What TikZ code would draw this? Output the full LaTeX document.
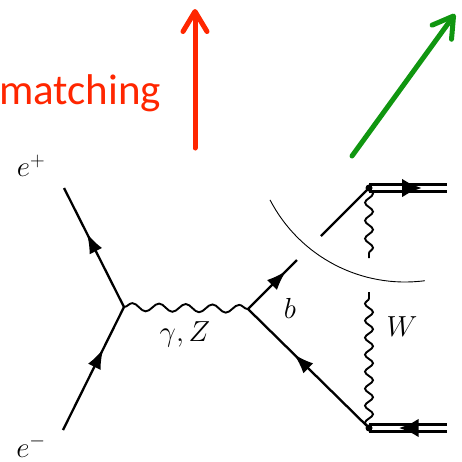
\RequirePackage{fix-cm}
\documentclass[tikz,border=0pt]{standalone}
\usepackage{fontspec}
\newfontfamily\carlito{Carlito}
\usetikzlibrary{arrows.meta,decorations.pathmorphing,decorations.markings}
\definecolor{hred}{RGB}{255,38,0}
\definecolor{hgreen}{RGB}{16,150,16}
\tikzset{
  fermion/.style={draw, line width=2.3pt, postaction={decorate},
    decoration={markings, mark=at position #1 with {\arrow{Latex[length=20pt,width=14pt]}}}},
  plainline/.style={draw, line width=2.3pt},
  dbline/.style={draw, line width=2.4pt, double, double distance=4.6pt, postaction={decorate},
    decoration={markings, mark=at position #1 with {\arrow{Latex[length=20pt,width=19pt]}}}},
  boson/.style={draw, line width=1.9pt, decorate, decoration={snake, amplitude=4pt, segment length=#1}},
  bigarrow/.style={line width=5pt, line cap=round, -{Straight Barb[length=20pt,width=24pt,round]}},
  lbl/.style={inner sep=0pt, font=\fontsize{29}{32}\selectfont},
  vdot/.style={circle, fill=black, inner sep=0pt, minimum size=7pt}
}
\begin{document}
\begin{tikzpicture}[x=1pt,y=1pt]
\useasboundingbox (0,0) rectangle (462,-461);
% top annotations
\node[anchor=base west, inner sep=0pt, text=hred, font=\carlito\fontsize{43}{50}\selectfont] (match) at (-1,-104) {matching};
\coordinate (ra) at (195,-148); \coordinate (rb) at (195,-9);
\draw[hred, bigarrow] (ra) -- (rb);
\coordinate (ga) at (352,-156); \coordinate (gb) at (455,-14);
\draw[hgreen, bigarrow] (ga) -- (gb);
% vertices
\coordinate (ep) at (64,-188);
\coordinate (em) at (63,-430);
\coordinate (v1) at (124,-307);
\coordinate (v2) at (248,-309);
\coordinate (bend) at (297,-260);
\coordinate (v3) at (369,-428);
\coordinate (v4) at (369,-188);
\coordinate (tl) at (321,-236);
\coordinate (wt) at (369,-258);
\coordinate (wb) at (369,-292);
\coordinate (dt) at (447,-188);
\coordinate (db) at (447,-428);
\coordinate (arcc) at (405,-130);
% fermion lines
\path[fermion=0.62] (v1) -- (ep);
\path[fermion=0.66] (em) -- (v1);
\path[fermion=0.78] (v2) -- (bend);
\path[fermion=0.62] (v3) -- (v2);
\path[plainline] (v4) -- (tl);
% bosons
\path[boson=26.7pt] (v1) -- (v2);
\path[boson=17pt] (v3) -- (wb);
\path[boson=18pt] (v4) -- (wt);
% double lines
\path[dbline=0.68] (v4) -- (dt);
\path[dbline=0.62] (db) -- (v3);
\node[vdot] (d4) at (v4) {};
\node[vdot] (d3) at (v3) {};
% arc
\draw[line width=0.9pt] (arcc) ++(207.4:152) arc[start angle=207.4, end angle=277.5, radius=152pt];
% labels
\node[lbl] (lep) at (31,-166) {$e^+$};
\node[lbl] (lem) at (31,-446) {$e^-$};
\node[lbl] (lgz) at (185,-334) {$\gamma,Z$};
\node[lbl] (lb) at (290,-308) {$b$};
\node[lbl] (lw) at (402,-327) {$W$};
\end{tikzpicture}
\end{document}
